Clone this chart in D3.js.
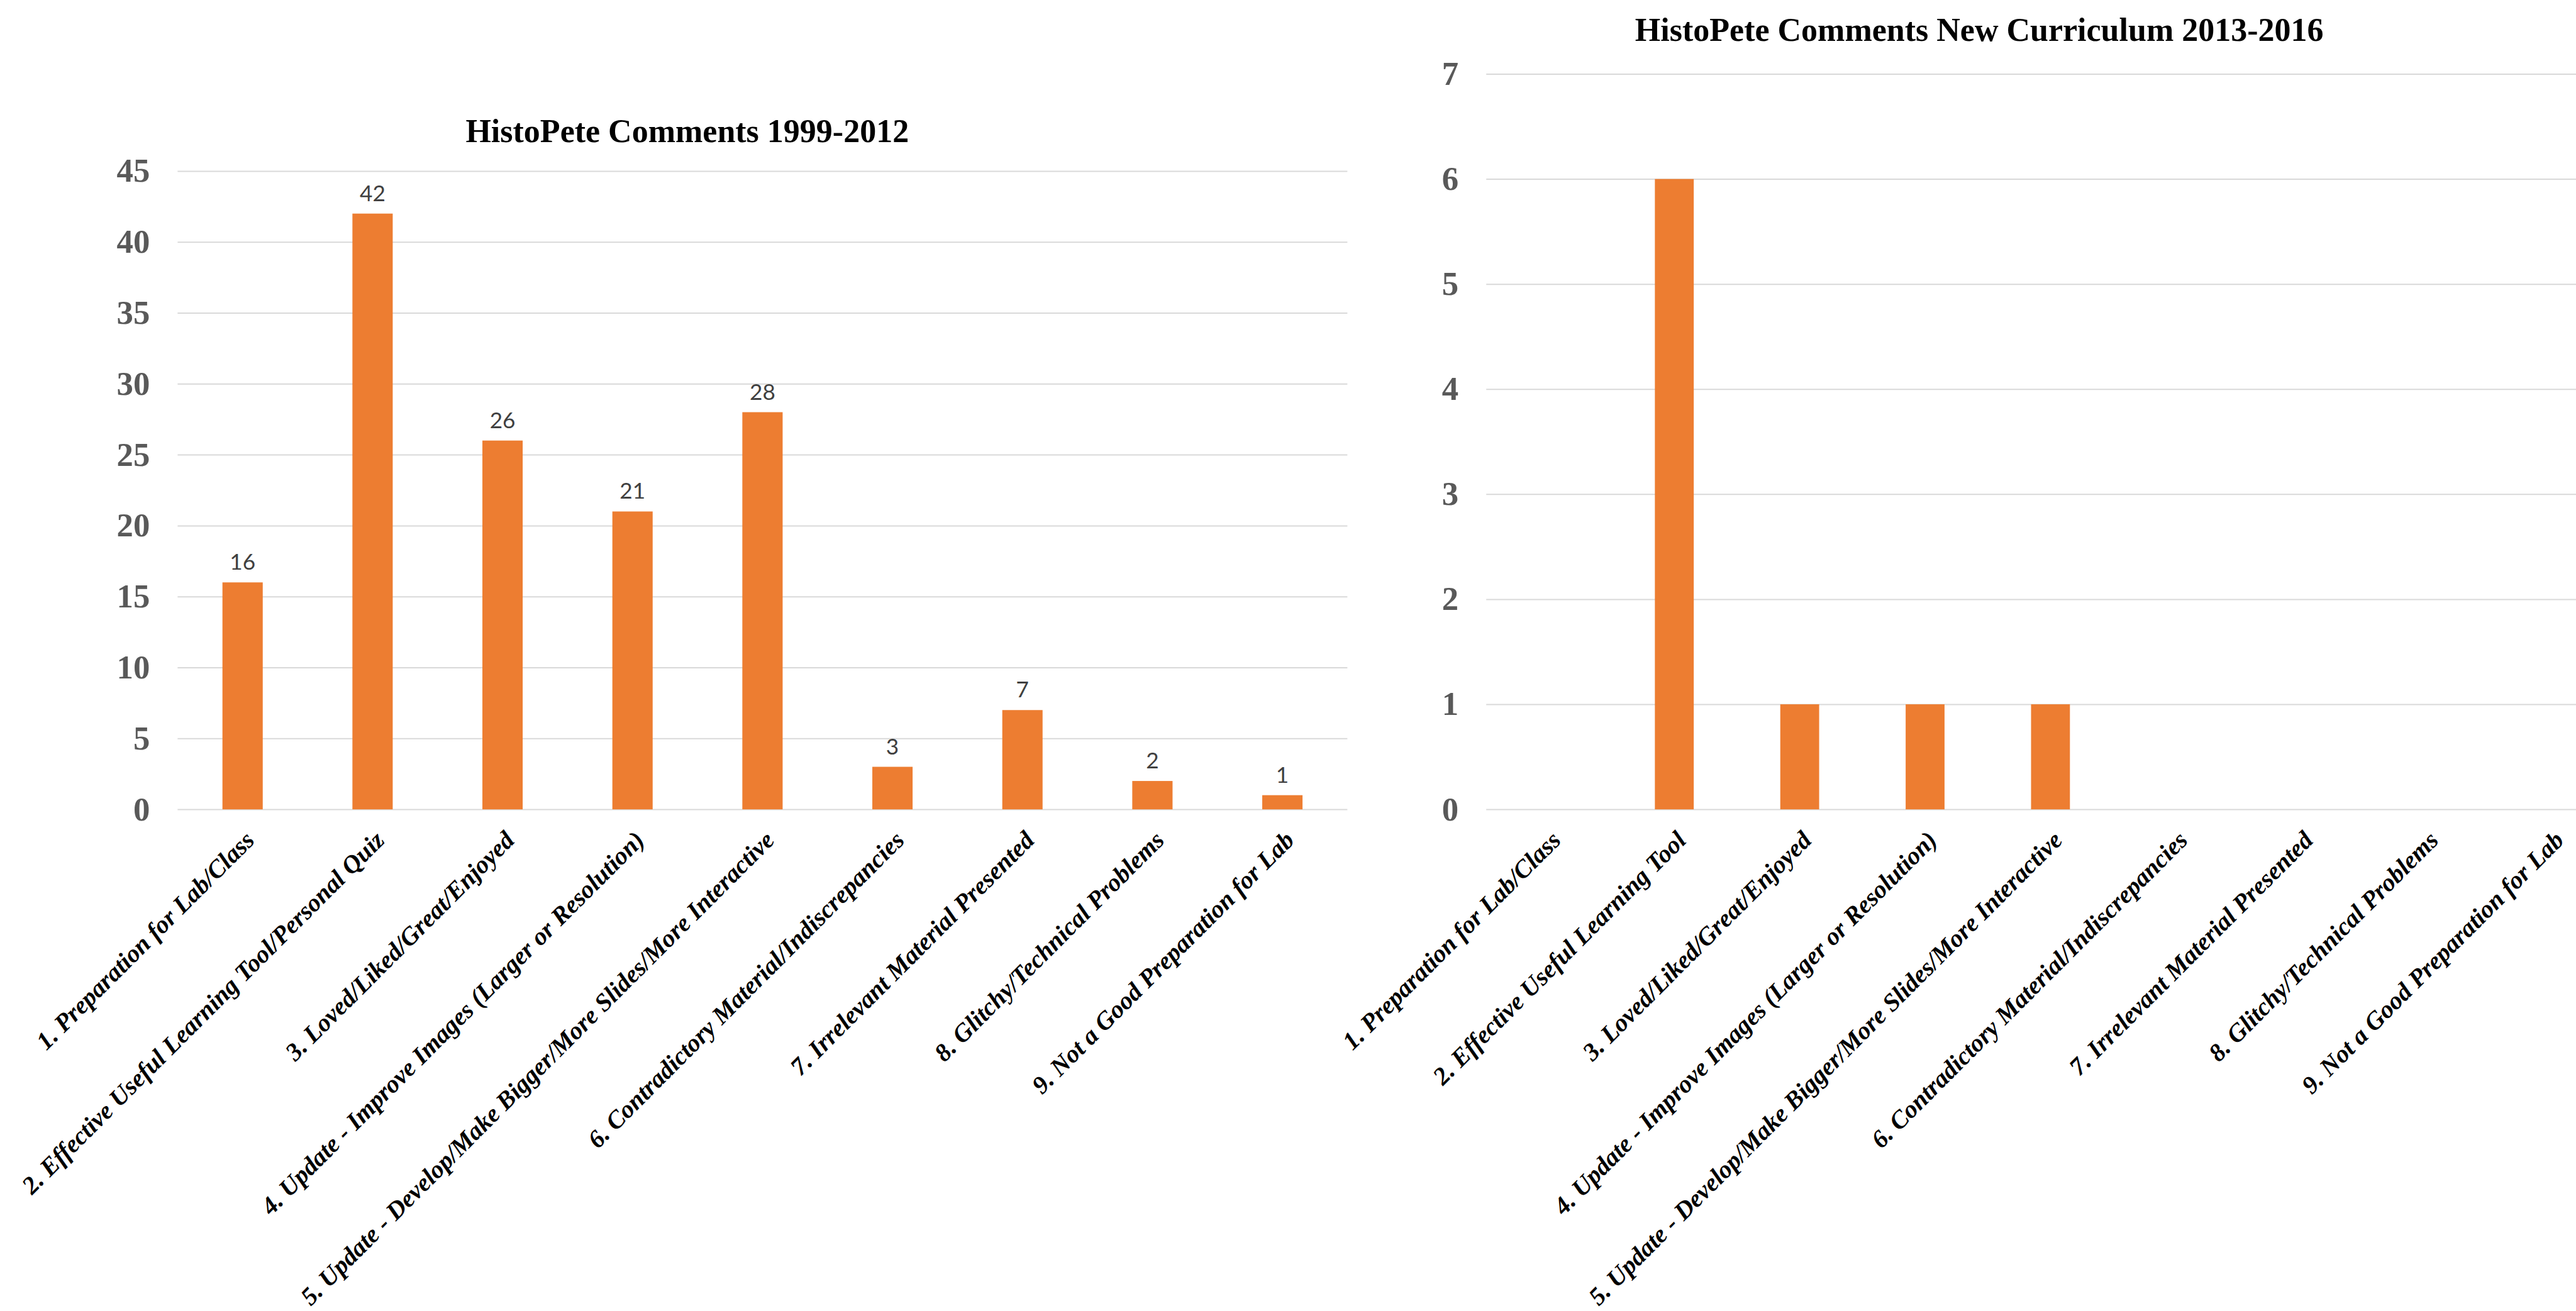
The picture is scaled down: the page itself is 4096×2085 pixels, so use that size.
<!DOCTYPE html>
<html>
<head>
<meta charset="utf-8">
<script src="https://cdn.jsdelivr.net/npm/d3@7"></script>
<style>
  body { margin: 0; background: #fff; overflow: hidden; }
</style>
</head>
<body>
<svg id="chart"></svg>
<script>
// Data
const categoriesOld = [
    "1. Preparation for Lab/Class",
    "2. Effective Useful Learning Tool/Personal Quiz",
    "3. Loved/Liked/Great/Enjoyed",
    "4. Update - Improve Images (Larger or Resolution)",
    "5. Update - Develop/Make Bigger/More Slides/More Interactive",
    "6. Contradictory Material/Indiscrepancies",
    "7. Irrelevant Material Presented",
    "8. Glitchy/Technical Problems",
    "9. Not a Good Preparation for Lab"
];
const countsOld = [16, 42, 26, 21, 28, 3, 7, 2, 1];
const ticksOld = [0, 5, 10, 15, 20, 25, 30, 35, 40, 45];

const categoriesNew = [
    "1. Preparation for Lab/Class",
    "2. Effective Useful Learning Tool",
    "3. Loved/Liked/Great/Enjoyed",
    "4. Update - Improve Images (Larger or Resolution)",
    "5. Update - Develop/Make Bigger/More Slides/More Interactive",
    "6. Contradictory Material/Indiscrepancies",
    "7. Irrelevant Material Presented",
    "8. Glitchy/Technical Problems",
    "9. Not a Good Preparation for Lab"
];
const countsNew = [0, 6, 1, 1, 1, 0, 0, 0, 0];
const ticksNew = [0, 1, 2, 3, 4, 5, 6, 7];

// layout is worked out in the reference's pixels, then scaled down
const S = 0.8;
const width = 4096;
const height = 2085;

const svg = d3.select("#chart").attr("width", width).attr("height", height);
const root = svg.append("g").attr("transform", `scale(${S})`);

const serif = "'Liberation Serif', 'Times New Roman', serif";

function drawChart(cfg) {
    const g = root.append("g");

    const x = d3.scaleBand()
        .domain(cfg.categories)
        .range([cfg.left, cfg.right])
        .paddingInner(0.69)
        .paddingOuter(0.345);

    const y = d3.scaleLinear()
        .domain([0, d3.max(cfg.ticks)])
        .range([cfg.bottom, cfg.top]);

    // gridlines + tick labels
    const yAxis = g.append("g")
        .attr("transform", `translate(${cfg.left},0)`)
        .call(d3.axisLeft(y)
            .tickValues(cfg.ticks)
            .tickFormat(d3.format("d"))
            .tickSize(-(cfg.right - cfg.left))
            .tickPadding(55));
    yAxis.select(".domain").remove();
    yAxis.selectAll("line").attr("stroke", "#d9d9d9").attr("stroke-width", 2.5);
    yAxis.selectAll("text")
        .attr("fill", "#595959")
        .style("font-family", serif)
        .style("font-weight", "bold")
        .style("font-size", "66px");

    // bars
    g.selectAll("rect.bar")
        .data(cfg.values)
        .join("rect")
        .attr("class", "bar")
        .attr("x", (d, i) => x(cfg.categories[i]))
        .attr("y", d => y(d))
        .attr("width", x.bandwidth())
        .attr("height", d => cfg.bottom - y(d))
        .attr("fill", "#ED7D31");

    // data labels
    if (cfg.showLabels) {
        g.selectAll("text.value")
            .data(cfg.values)
            .join("text")
            .attr("class", "value")
            .attr("x", (d, i) => x(cfg.categories[i]) + x.bandwidth() / 2)
            .attr("y", d => y(d) - 25)
            .attr("text-anchor", "middle")
            .attr("fill", "#404040")
            .style("font-family", "Lato, 'Open Sans', sans-serif")
            .style("font-size", "44px")
            .text(d => d);
    }

    // category labels
    const xAxis = g.append("g")
        .attr("transform", `translate(0,${cfg.bottom})`)
        .call(d3.axisBottom(x).tickSize(0));
    xAxis.select(".domain").remove();
    xAxis.selectAll("text")
        .attr("x", 0)
        .attr("y", 0)
        .attr("dy", "0.35em")
        .attr("text-anchor", "end")
        .attr("transform", "translate(14,52) rotate(-45)")
        .attr("fill", "#000")
        .style("font-family", serif)
        .style("font-weight", "bold")
        .style("font-style", "italic")
        .style("font-size", "50px");

    // title
    g.append("text")
        .attr("x", cfg.titleX)
        .attr("y", cfg.titleY)
        .attr("text-anchor", "middle")
        .attr("fill", "#000")
        .style("font-family", serif)
        .style("font-weight", "bold")
        .style("font-size", "65px")
        .text(cfg.title);
}

drawChart({
    categories: categoriesOld,
    values: countsOld,
    ticks: ticksOld,
    left: 353, right: 2678, top: 340, bottom: 1609,
    title: "HistoPete Comments 1999-2012",
    titleX: 1366, titleY: 283,
    showLabels: true
});

drawChart({
    categories: categoriesNew,
    values: countsNew,
    ticks: ticksNew,
    left: 2954, right: 5197, top: 147, bottom: 1609,
    title: "HistoPete Comments New Curriculum 2013-2016",
    titleX: 3934, titleY: 81,
    showLabels: false
});
</script>
</body>
</html>
